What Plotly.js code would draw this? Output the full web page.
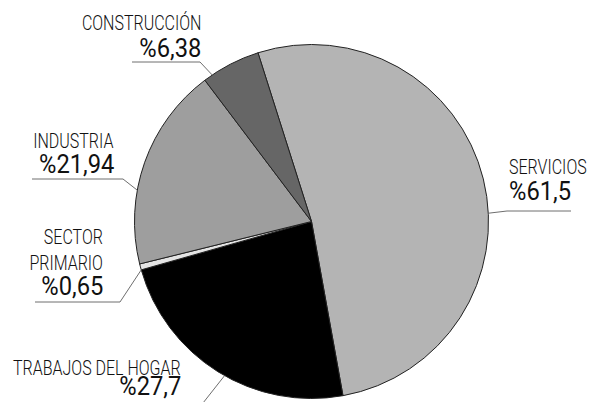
<!DOCTYPE html>
<html><head><meta charset="utf-8">
<script src="https://cdn.plot.ly/plotly-3.0.1.min.js"></script>
<style>html,body{margin:0;padding:0;background:#fff}</style>
</head><body>
<div id="chart" style="width:590px;height:402px"></div>
<script>
// Data
const categories = ["SERVICIOS", "TRABAJOS DEL HOGAR", "SECTOR<br>PRIMARIO", "INDUSTRIA", "CONSTRUCCIÓN"];
const values = [61.5, 27.7, 0.65, 21.94, 6.38];
const valueLabels = ["%61,5", "%27,7", "%0,65", "%21,94", "%6,38"];
const colors = ["#b4b4b4", "#000000", "#e4e4e4", "#9e9e9e", "#666666"];

// Layout geometry (pixels)
const W = 590, H = 402;
const CX = 311.5, CY = 221.5, R = 177;
const ROT = -17.6;
const px = x => x / W, py = y => 1 - y / H;

// Label layout
const labelLayout = [
  {x: 507, anchor: "left", nameY: 153, valY: 175, u0: 507, u1: 571, uy: 211, frac: 0.56},
  {x: 183, anchor: "right", nameY: 354, valY: 370, u0: 130, u1: 203, uy: 403, frac: 0.47},
  {x: 105, anchor: "right", nameY: 223, valY: 270, u0: 35, u1: 120, uy: 302, frac: 0.0},
  {x: 116, anchor: "right", nameY: 127, valY: 148, u0: 32, u1: 123, uy: 179, frac: 0.36},
  {x: 203, anchor: "right", nameY: 9, valY: 32, u0: 132, u1: 200, uy: 62, frac: 0.15}
];
const NAME_SCALE = 0.8, VALUE_SCALE = 0.95;

const total = values.reduce((a, b) => a + b, 0);
let start = ROT;
const shapes = [], annotations = [], annMeta = [];
const font = "Roboto, 'DejaVu Sans', sans-serif";
values.forEach((v, i) => {
  const span = v / total * 360;
  const L = labelLayout[i];
  const ang = (start + L.frac * span) * Math.PI / 180;
  const ex = CX + R * Math.sin(ang), ey = CY - R * Math.cos(ang);
  const elbowX = L.anchor === "left" ? L.u0 : L.u1;
  shapes.push({type: "path", xref: "paper", yref: "paper",
    path: `M ${px(L.anchor === "left" ? L.u1 : L.u0)},${py(L.uy)} L ${px(elbowX)},${py(L.uy)} L ${px(ex)},${py(ey)}`,
    line: {color: "#6e6e6e", width: 1}});
  annotations.push({xref: "paper", yref: "paper", x: px(L.x), y: py(L.nameY), xanchor: L.anchor, yanchor: "top",
    text: categories[i], showarrow: false, align: L.anchor,
    font: {family: font, size: 20, weight: 300, color: "#111"}});
  annMeta.push({anchor: L.anchor, scale: NAME_SCALE});
  annotations.push({xref: "paper", yref: "paper", x: px(L.x), y: py(L.valY), xanchor: L.anchor, yanchor: "top",
    text: valueLabels[i], showarrow: false, align: L.anchor,
    font: {family: font, size: 25, weight: 400, color: "#111"}});
  annMeta.push({anchor: L.anchor, scale: VALUE_SCALE});
  start += span;
});

const data = [{
  type: "pie", labels: categories, values: values, sort: false, direction: "clockwise",
  rotation: ROT, textinfo: "none", hoverinfo: "label+value",
  marker: {colors: colors, line: {color: "#222", width: 1}},
  domain: {x: [px(CX - R), px(CX + R)], y: [py(CY + R), py(CY - R)]},
  showlegend: false
}];
const layout = {width: W, height: H, margin: {l: 0, r: 0, t: 0, b: 0},
  paper_bgcolor: "#fff", showlegend: false, shapes: shapes, annotations: annotations};
Plotly.newPlot("chart", data, layout, {displayModeBar: false, staticPlot: true}).then(gd => {
  // condense label text horizontally around its anchor side
  gd.querySelectorAll("g.annotation").forEach(g => {
    const m = annMeta[+g.getAttribute("data-index")];
    const t = g.querySelector("text.annotation-text");
    if (!m || !t) return;
    t.style.transformBox = "fill-box";
    t.style.transformOrigin = m.anchor === "left" ? "left center" : "right center";
    t.style.transform = `scaleX(${m.scale})`;
  });
});
</script>
</body></html>
